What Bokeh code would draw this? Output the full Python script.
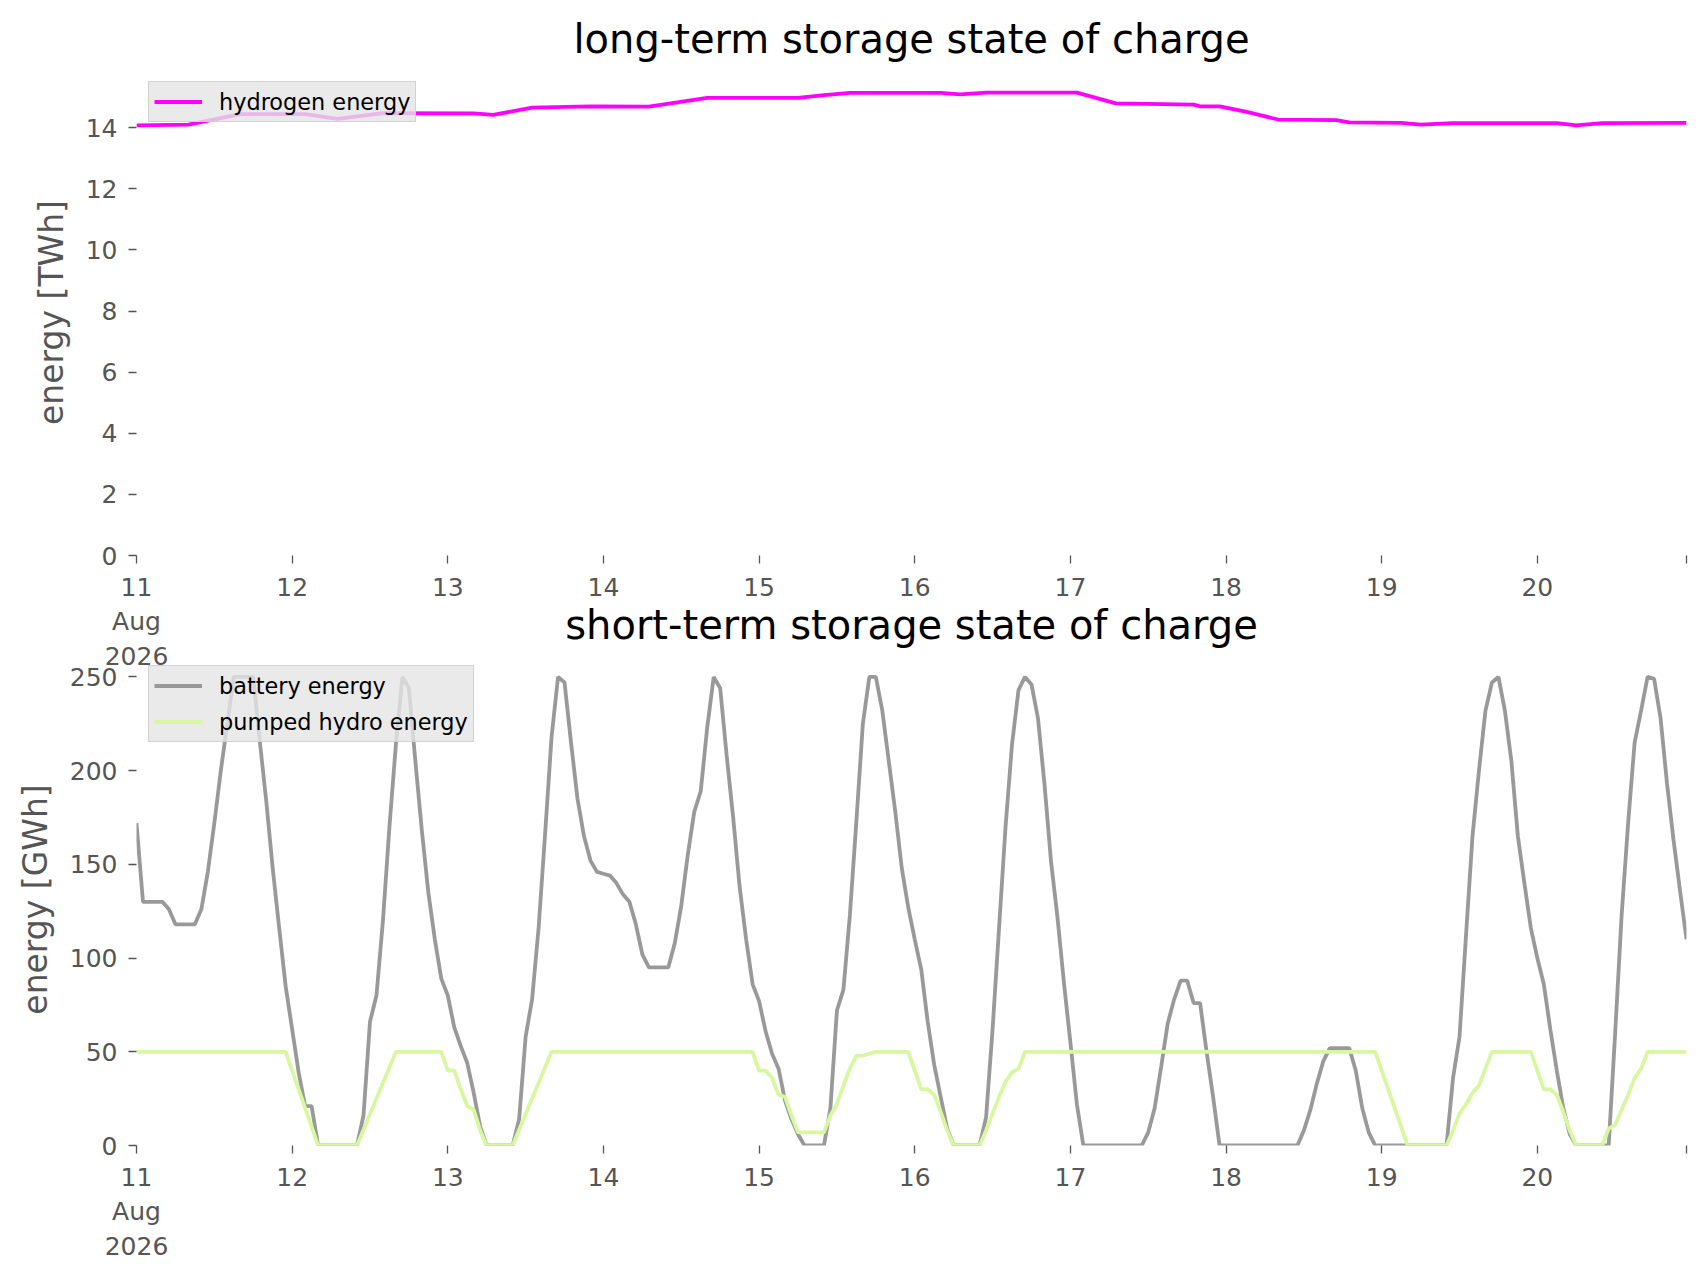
from bokeh.plotting import figure
from bokeh.models import Range1d, FixedTicker, Legend, LegendItem
from bokeh.layouts import column
from bokeh.embed import file_html
from bokeh.resources import INLINE

# ---------------- data (hours since 2026-08-11 00:00) ----------------
h2_hours = [0, 8, 16, 26, 31, 38, 52, 55, 61, 70, 79, 88, 102, 106, 110, 124, 127,
            131, 145, 151, 163, 164, 167, 171, 176, 185, 187, 195, 198, 203, 219,
            222, 226, 239]
h2_twh = [14.08, 14.10, 14.45, 14.45, 14.29, 14.48, 14.47, 14.42, 14.66, 14.70,
          14.69, 14.98, 14.98, 15.07, 15.14, 15.14, 15.09, 15.15, 15.15, 14.80,
          14.76, 14.70, 14.70, 14.53, 14.27, 14.25, 14.18, 14.16, 14.10, 14.15,
          14.15, 14.08, 14.15, 14.16]

bat_hours = [0, 1, 4, 5, 6, 9, 10, 11, 12, 13, 14, 15, 18, 19, 20, 21, 22, 23, 24, 25, 26, 27, 28,
             34, 35, 36, 37, 38, 39, 40, 41, 42, 43, 44, 45, 46, 47, 48, 49, 50, 51, 52, 53, 54,
             58, 59, 60, 61, 62, 63, 64, 65, 66, 67, 68, 69, 70, 71, 72, 73, 74, 75, 76, 77, 78, 79,
             82, 83, 84, 85, 86, 87, 88, 89, 90, 91, 92, 93, 94, 95, 96, 97, 98, 99, 100, 101, 102, 103,
             106, 107, 108, 109, 110, 111, 112, 113, 114, 115, 116, 117, 118, 119, 120, 121, 122, 123,
             124, 125, 126,
             130, 131, 132, 133, 134, 135, 136, 137, 138, 139, 140, 141, 142, 143, 144, 145, 146,
             155, 156, 157, 158, 159, 160, 161, 162, 163, 164, 165, 166, 167,
             179, 180, 181, 182, 183, 184, 187, 188, 189, 190, 191,
             202, 203, 204, 205, 206, 207, 208, 209, 210, 211, 212, 213, 214, 215, 216, 217, 218, 219,
             220, 221, 222,
             227, 228, 229, 230, 231, 232, 233, 234, 235, 236, 237, 238, 239]
bat_gwh = [172, 130, 130, 126, 118, 118, 126, 146, 172, 200, 225, 250, 250, 216, 184, 148, 116, 85, 62, 39, 21, 21, 0,
           0, 16, 66, 80, 120, 170, 214, 250, 244, 205, 168, 135, 110, 89, 80, 63, 53, 44, 28, 10, 0,
           0, 14, 58, 78, 116, 166, 218, 250, 247, 215, 185, 165, 152, 146, 145, 144, 140, 134, 130, 118, 102, 95,
           95, 108, 128, 155, 178, 189, 223, 250, 244, 208, 175, 138, 110, 86, 77, 61, 49, 41, 24, 14, 6, 0,
           0, 20, 72, 83, 123, 173, 225, 250, 250, 232, 205, 178, 148, 127, 110, 94, 66, 43,
           26, 9, 0,
           0, 15, 62, 116, 170, 214, 243, 250, 246, 228, 193, 152, 122, 87, 55, 22, 0,
           0, 7, 20, 42, 65, 78, 88, 88, 76, 76, 50, 26, 0,
           0, 8, 19, 33, 45, 52, 52, 40, 20, 7, 0,
           0, 36, 58, 112, 165, 200, 232, 247, 250, 232, 205, 165, 140, 116, 100, 86, 62, 40,
           20, 6, 0,
           0, 60, 123, 172, 215, 232, 250, 249, 228, 193, 163, 136, 110]

phs_hours = [0, 23, 28, 34, 40, 47, 48, 49, 50, 51, 52, 53, 54, 58, 64, 95, 96, 97, 98, 99, 100,
             101, 102, 106, 107, 108, 109, 110, 111, 112, 113, 114, 119, 120, 121, 122, 123, 124,
             125, 126, 130, 131, 132, 133, 134, 135, 136, 137, 191, 196, 202, 203, 204, 205, 206,
             207, 208, 209, 215, 216, 217, 218, 219, 220, 221, 222, 226, 227, 228, 229, 230, 231,
             232, 233, 239]
phs_gwh = [50, 50, 0, 0, 50, 50, 40, 40, 30, 21, 19, 8, 0, 0, 50, 50, 40, 40, 36, 27, 26,
           16, 7, 7, 16, 22, 32, 41, 48, 48, 49, 50, 50, 40, 30, 30, 27, 18,
           8, 0, 0, 8, 17, 26, 34, 39, 41, 50, 50, 0, 0, 8, 17, 22, 28,
           32, 41, 50, 50, 40, 30, 30, 27, 18, 8, 0, 0, 9, 11, 19, 27, 36,
           41, 50, 50]

day_ticks = [0, 24, 48, 72, 96, 120, 144, 168, 192, 216, 239]
day_labels = ["11\nAug\n2026", "12", "13", "14", "15", "16", "17", "18", "19", "20", ""]
h2_yticks = [0, 2, 4, 6, 8, 10, 12, 14]
st_yticks = [0, 50, 100, 150, 200, 250]

FONT = "DejaVu Sans"
GREY = "#555555"


def style(p, ylabel, yticks, standoff):
    p.title.text_font = FONT
    p.title.text_font_size = "40px"
    p.title.text_font_style = "normal"
    p.title.text_color = "black"
    p.title.align = "center"
    p.title.standoff = standoff
    p.outline_line_color = None
    p.xgrid.visible = False
    p.ygrid.visible = False
    for ax in list(p.xaxis) + list(p.yaxis):
        ax.axis_line_color = None
        ax.major_tick_line_color = GREY
        ax.major_tick_line_width = 1.3
        ax.major_tick_in = 0
        ax.major_tick_out = 8
        ax.minor_tick_line_color = None
        ax.major_label_text_font = FONT
        ax.major_label_text_font_size = "25px"
        ax.major_label_text_color = GREY
    p.xaxis.ticker = FixedTicker(ticks=day_ticks)
    p.xaxis.major_label_overrides = {t: l for t, l in zip(day_ticks, day_labels)}
    p.xaxis.major_label_standoff = 9
    p.yaxis.ticker = FixedTicker(ticks=yticks)
    p.yaxis.major_label_standoff = 11
    p.yaxis.axis_label = ylabel
    p.yaxis.axis_label_text_font = FONT
    p.yaxis.axis_label_text_font_size = "33px"
    p.yaxis.axis_label_text_font_style = "normal"
    p.yaxis.axis_label_text_color = GREY
    p.yaxis.axis_label_standoff = 12


def make_legend(items):
    lg = Legend(items=items, location="top_left", margin=12, padding=5, spacing=7,
                glyph_width=48, glyph_height=29, label_height=29, label_standoff=17,
                label_text_font=FONT, label_text_font_size="22.4px", label_text_color="black",
                background_fill_color="#e5e5e5", background_fill_alpha=0.8,
                border_line_color="#cccccc", border_line_alpha=0.8, border_line_width=1)
    return lg


W = 1690
LW = 3.8
p1 = figure(width=W, height=674, title="long-term storage state of charge",
            x_range=Range1d(0, 239), y_range=Range1d(0, max(h2_twh) * 1.05),
            output_backend="svg", toolbar_location=None,
            min_border_left=136, min_border_right=4, min_border_top=69, min_border_bottom=115)
style(p1, "energy [TWh]", h2_yticks, 15)
p1.background_fill_color = "white"
r_h2 = p1.line(h2_hours, h2_twh, line_color="#ff00ff", line_width=LW)
p1.add_layout(make_legend([LegendItem(label="hydrogen energy", renderers=[r_h2])]))

p2 = figure(width=W, height=670, title="short-term storage state of charge",
            x_range=Range1d(0, 239), y_range=Range1d(0, max(bat_gwh) * 1.05),
            output_backend="svg", toolbar_location=None,
            min_border_left=136, min_border_right=4, min_border_top=59, min_border_bottom=113)
style(p2, "energy [GWh]", st_yticks, 11)
p2.border_fill_color = None
p2.background_fill_color = None
r_bat = p2.line(bat_hours, bat_gwh, line_color="#999999", line_width=LW)
r_phs = p2.line(phs_hours, phs_gwh, line_color="#d9f7a0", line_width=LW)
p2.add_layout(make_legend([LegendItem(label="battery energy", renderers=[r_bat]),
                           LegendItem(label="pumped hydro energy", renderers=[r_phs])]))
p2.margin = (-80, 0, 0, 0)

layout = column(p1, p2, spacing=0)
open("out.html", "w").write(file_html(layout, INLINE))
